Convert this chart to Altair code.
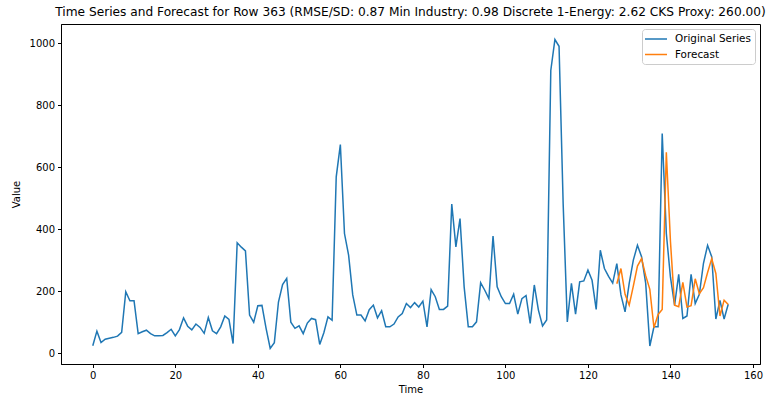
import altair as alt
import pandas as pd

original = [
    24, 71, 34, 45, 48, 51, 55, 67, 198, 169,
    169, 63, 69, 74, 63, 56, 56, 57, 66, 77,
    56, 76, 114, 87, 75, 94, 83, 64, 115, 72,
    63, 85, 120, 109, 31, 356, 342, 330, 123, 100,
    153, 154, 80, 15, 34, 165, 221, 241, 100, 80,
    88, 63, 97, 112, 108, 28, 66, 117, 106, 569,
    673, 386, 316, 188, 123, 123, 104, 140, 155, 114,
    137, 85, 85, 94, 117, 128, 160, 147, 163, 149,
    168, 85, 205, 182, 141, 141, 152, 481, 343, 434,
    214, 85, 85, 101, 227, 203, 176, 378, 214, 182,
    160, 160, 190, 126, 176, 186, 96, 220, 139, 88,
    107, 912, 1012, 990, 480, 101, 225, 126, 230, 233,
    268, 235, 141, 332, 273, 248, 226, 289, 188, 133,
    225, 300, 348, 311, 225, 23, 85, 85, 709, 386,
    245, 155, 254, 112, 120, 254, 160, 190, 290, 348,
    311, 110, 170, 110, 158,
]
forecast_start = 127
forecast = [
    224, 273, 190, 155, 216, 281, 305, 250, 206, 82,
    125, 141, 648, 360, 155, 150, 228, 149, 153, 240,
    192, 211, 260, 305, 257, 120, 171, 157,
]
series_names = ["Original Series", "Forecast"]
series_colors = ["#1f77b4", "#ff7f0e"]
x_ticks = [0, 20, 40, 60, 80, 100, 120, 140, 160]
y_ticks = [0, 200, 400, 600, 800, 1000]
title = ("Time Series and Forecast for Row 363 (RMSE/SD: 0.87 Min Industry: 0.98 "
         "Discrete 1-Energy: 2.62 CKS Proxy: 260.00)")

rows = [{"Time": i, "Value": v, "Series": series_names[0]} for i, v in enumerate(original)]
rows += [{"Time": forecast_start + i, "Value": v, "Series": series_names[1]} for i, v in enumerate(forecast)]
df = pd.DataFrame(rows)

FONT = "DejaVu Sans"

chart = alt.Chart(df).mark_line(strokeWidth=1.5).encode(
    x=alt.X("Time:Q", scale=alt.Scale(domain=[-7.7, 161.7], nice=False, zero=False),
            axis=alt.Axis(values=x_ticks, title="Time", grid=False, format="d")),
    y=alt.Y("Value:Q", scale=alt.Scale(domain=[-35, 1062], nice=False, zero=False),
            axis=alt.Axis(values=y_ticks, title="Value", grid=False, format="d")),
    color=alt.Color("Series:N",
                    scale=alt.Scale(domain=series_names, range=series_colors),
                    sort=series_names,
                    legend=alt.Legend(title=None, orient="none", legendX=581, legendY=5,
                                      symbolType="M-2.2,0H2.2", symbolSize=100,
                                      symbolStrokeWidth=1.5, symbolOffset=4,
                                      labelFontSize=10.4, labelFont=FONT, labelColor="#000000",
                                      strokeColor="#cccccc", fillColor="#ffffff", padding=4,
                                      cornerRadius=3, rowPadding=3.5,
                                      labelOffset=13)),
    order=alt.Order("Time:Q"),
).properties(
    width=699,
    height=340,
    title=alt.TitleParams(title, fontSize=12.2, font=FONT, fontWeight="normal", color="#000000",
                          anchor="middle", offset=6),
    autosize=alt.AutoSizeParams(type="none"),
    padding={"left": 61, "top": 24, "right": 16, "bottom": 33},
).configure_view(
    stroke="#000000", strokeWidth=1
).configure_axis(
    labelFont=FONT, titleFont=FONT, labelFontSize=10, titleFontSize=10,
    titleFontWeight="normal", labelColor="#000000", titleColor="#000000",
    tickColor="#000000", domainColor="#000000", tickSize=3.5, labelPadding=3,
    domain=True
).configure_axisX(titlePadding=4).configure_axisY(titlePadding=8)

chart.save("out.html", embed_options={"renderer": "svg", "actions": False})
